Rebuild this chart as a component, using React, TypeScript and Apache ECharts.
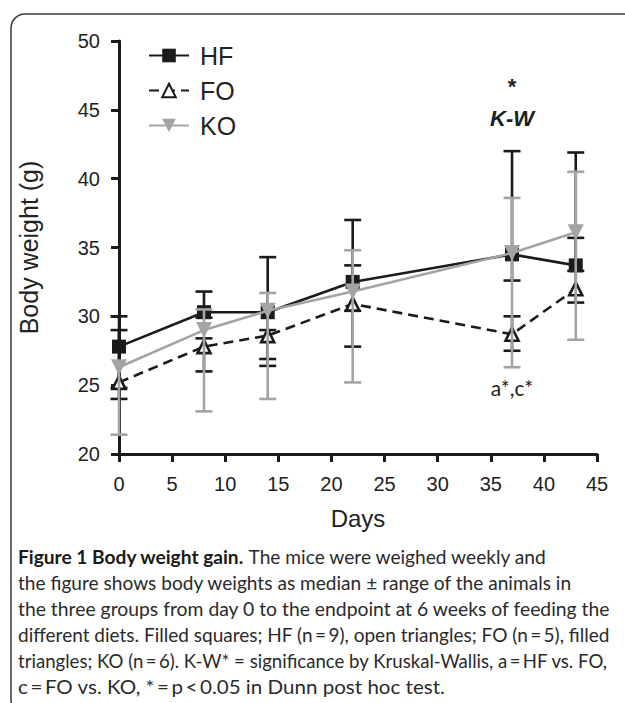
import React, { useEffect, useRef } from "react";
import * as echarts from "echarts";

// ---- data ----
const days = [0, 8, 14, 22, 37, 43];

const hfMedian = [27.8, 30.3, 30.3, 32.5, 34.5, 33.7];
const hfLow = [24.8, 29.9, 26.9, 27.8, 32.6, 33.3];
const hfHigh = [29.0, 31.8, 34.3, 37.0, 42.0, 41.9];

const foMedian = [25.2, 27.8, 28.6, 30.9, 28.7, 32.0];
const foLow = [24.0, 26.0, 26.4, 30.4, 27.5, 31.0];
const foHigh = [30.0, 28.4, 29.0, 33.7, 30.0, 35.7];

const koMedian = [26.3, 29.0, 30.4, 31.8, 34.6, 36.1];
const koLow = [21.4, 23.1, 24.0, 25.2, 26.3, 28.3];
const koHigh = [26.3, 30.5, 31.7, 34.8, 38.6, 40.5];

const seriesNames = ["HF", "FO", "KO"];

const noteTexts = ["*", "K-W", "a*,c*"];
const noteDays = [37, 37, 37];
const noteValues = [46.7, 44.4, 24.8];

const captionBold = ["Figure 1 Body weight gain.", "", "", "", "", ""];
const captionLines = [
  " The mice were weighed weekly and",
  "the figure shows body weights as median \u00b1 range of the animals in",
  "the three groups from day 0 to the endpoint at 6 weeks of feeding the",
  "different diets. Filled squares; HF (n\u2009=\u20099), open triangles; FO (n\u2009=\u20095), filled",
  "triangles; KO (n\u2009=\u20096). K-W* = significance by Kruskal-Wallis, a\u2009=\u2009HF vs. FO,",
  "c\u2009=\u2009FO vs. KO, *\u2009=\u2009p\u2009<\u20090.05 in Dunn post hoc test.",
];

// layout of the caption (right edge of each line in the reference)
const CAP_LEFT = 18;
const CAP_TOP = 556;
const CAP_STEP = 26;
const capRight = [548, 572, 611, 610, 608, 470];

const FONT = "'Liberation Sans', Arial, sans-serif";
const CAP_FONT = "Lato, 'Open Sans', sans-serif";
const BLACK = "#1b1b1b";
const GREY = "#a4a4a4";
const CAP_SIZE = 19.4;

function rangeSeries(name: string, med: number[], lo: number[], hi: number[], color: string, z: number) {
  return {
    type: "custom",
    name,
    z,
    silent: true,
    encode: { x: 0, y: [1, 2] },
    data: days.map((d, i) => [d, lo[i], hi[i], med[i]]),
    renderItem: (params: any, api: any) => {
      const x = api.value(0);
      const l = api.value(1);
      const h = api.value(2);
      const m = api.value(3);
      const pl = api.coord([x, l]);
      const ph = api.coord([x, h]);
      const half = 8.5;
      const st = { stroke: color, lineWidth: 2.6 };
      const children: any[] = [
        { type: "line", shape: { x1: pl[0], y1: pl[1], x2: ph[0], y2: ph[1] }, style: st },
      ];
      if (Math.abs(l - m) > 0.01)
        children.push({ type: "line", shape: { x1: pl[0] - half, y1: pl[1], x2: pl[0] + half, y2: pl[1] }, style: st });
      if (Math.abs(h - m) > 0.01)
        children.push({ type: "line", shape: { x1: ph[0] - half, y1: ph[1], x2: ph[0] + half, y2: ph[1] }, style: st });
      return { type: "group", children };
    },
  };
}

function measureLine(bold: string, normal: string): number {
  const c = document.createElement("canvas").getContext("2d");
  if (!c) return 0;
  let w = 0;
  if (bold) {
    c.font = `bold ${CAP_SIZE}px ${CAP_FONT}`;
    w += c.measureText(bold).width;
  }
  c.font = `normal ${CAP_SIZE}px ${CAP_FONT}`;
  w += c.measureText(normal).width;
  return w;
}

export default function App() {
  const ref = useRef<HTMLDivElement>(null);

  useEffect(() => {
    if (!ref.current) return;
    const chart = echarts.init(ref.current, undefined, { renderer: "svg" });

    const captionGraphics = captionLines.map((t, i) => {
      const w = measureLine(captionBold[i], t);
      const target = capRight[i] - CAP_LEFT;
      const sx = w > 0 ? Math.min(1.06, Math.max(0.9, target / w)) : 1;
      const txt = captionBold[i] ? `{b|${captionBold[i]}}${t}` : t;
      return {
        type: "text",
        x: CAP_LEFT,
        y: CAP_TOP + i * CAP_STEP,
        scaleX: sx,
        silent: true,
        style: {
          text: txt,
          fill: "#2a2a2a",
          fontSize: CAP_SIZE,
          fontFamily: CAP_FONT,
          verticalAlign: "middle",
          align: "left",
          rich: { b: { fontWeight: "bold", fontSize: CAP_SIZE, fontFamily: CAP_FONT, fill: "#1a1a1a" } },
        },
      };
    });

    chart.setOption({
      animation: false,
      grid: { left: 119, right: 28, top: 41, bottom: 249, containLabel: false },
      legend: {
        data: seriesNames,
        orient: "vertical",
        left: 143,
        top: 38,
        itemWidth: 40,
        itemHeight: 17,
        itemGap: 10,
        selectedMode: false,
        textStyle: { fontSize: 25, fontFamily: FONT, color: "#222", padding: [0, 0, 0, 6] },
      },
      xAxis: {
        type: "value",
        min: 0,
        max: 45,
        interval: 5,
        name: "Days",
        nameLocation: "middle",
        nameGap: 52,
        nameTextStyle: { fontSize: 24, fontFamily: FONT, color: "#222" },
        axisLine: { show: true, lineStyle: { color: BLACK, width: 3 } },
        axisTick: { show: true, inside: false, length: 8, lineStyle: { color: BLACK, width: 3 } },
        axisLabel: { fontSize: 20, fontFamily: FONT, color: "#222", margin: 20 },
        splitLine: { show: false },
      },
      yAxis: {
        type: "value",
        min: 20,
        max: 50,
        interval: 5,
        name: "Body weight (g)",
        nameLocation: "middle",
        nameRotate: 90,
        nameGap: 78,
        nameTextStyle: { fontSize: 25, fontFamily: FONT, color: "#222" },
        axisLine: { show: true, lineStyle: { color: BLACK, width: 3 } },
        axisTick: { show: true, inside: false, length: 8, lineStyle: { color: BLACK, width: 3 } },
        axisLabel: { fontSize: 20, fontFamily: FONT, color: "#222", margin: 19 },
        splitLine: { show: false },
      },
      series: [
        rangeSeries("HF range", hfMedian, hfLow, hfHigh, BLACK, 2),
        {
          type: "line",
          name: "HF",
          z: 3,
          data: days.map((d, i) => [d, hfMedian[i]]),
          symbol: "rect",
          symbolSize: 14,
          lineStyle: { color: BLACK, width: 2.6 },
          itemStyle: { color: BLACK },
        },
        rangeSeries("FO range", foMedian, foLow, foHigh, BLACK, 4),
        {
          type: "line",
          name: "FO",
          z: 5,
          data: days.map((d, i) => [d, foMedian[i]]),
          symbol: "triangle",
          symbolSize: 13,
          lineStyle: { color: BLACK, width: 2.6, type: [10, 6] },
          itemStyle: { color: "#ffffff", borderColor: BLACK, borderWidth: 2.6 },
        },
        rangeSeries("KO range", koMedian, koLow, koHigh, GREY, 6),
        {
          type: "line",
          name: "KO",
          z: 7,
          data: days.map((d, i) => [d, koMedian[i]]),
          symbol: "triangle",
          symbolRotate: 180,
          symbolSize: 16,
          lineStyle: { color: GREY, width: 2.6 },
          itemStyle: { color: GREY },
        },
        {
          type: "custom",
          name: "notes",
          z: 8,
          silent: true,
          encode: { x: 0, y: 1 },
          data: noteTexts.map((t, i) => [noteDays[i], noteValues[i], i]),
          renderItem: (params: any, api: any) => {
            const idx = api.value(2);
            const p = api.coord([api.value(0), api.value(1)]);
            const isPost = idx === 2;
            return {
              type: "text",
              x: p[0],
              y: p[1],
              style: {
                text: noteTexts[idx],
                fill: "#1e1e1e",
                fontSize: isPost ? 21 : 22,
                fontWeight: isPost ? "normal" : "bold",
                fontStyle: idx === 1 ? "italic" : "normal",
                fontFamily: isPost ? CAP_FONT : FONT,
                align: "center",
                verticalAlign: "middle",
              },
            };
          },
        },
      ],
      graphic: [
        {
          type: "rect",
          silent: true,
          shape: { x: 11, y: 14, width: 700, height: 700, r: 14 },
          style: { fill: "none", stroke: "#3a3a3a", lineWidth: 1.5 },
        },
        ...captionGraphics,
      ],
    });

    return () => chart.dispose();
  }, []);

  return (
    <div
      ref={ref}
      style={{ position: "absolute", left: 0, top: 0, width: 625, height: 703, background: "#fff" }}
    />
  );
}
